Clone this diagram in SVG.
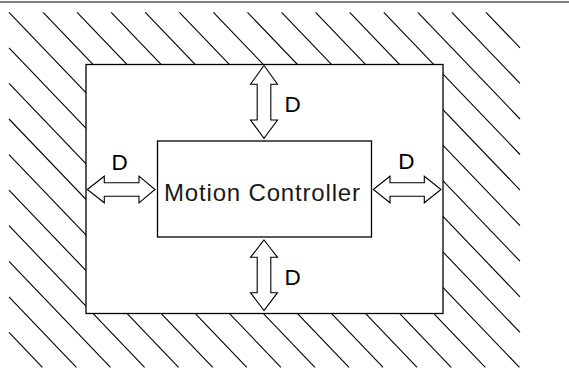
<svg xmlns="http://www.w3.org/2000/svg" width="569" height="377" viewBox="0 0 569 377">
<style>
.hatch{stroke:#000;stroke-width:1.1;fill:none}
.box{fill:#fff;stroke:#000;stroke-width:1.3}
.arrow{fill:#fff;stroke:#000;stroke-width:1.1;stroke-linejoin:miter}
.lbl{font-family:"Liberation Sans",Arial,sans-serif;font-size:22.5px;fill:#000}
.main{font-family:"Liberation Sans",Arial,sans-serif;font-size:24px;fill:#1a1a1a}
</style>
<rect x="0" y="0" width="569" height="377" fill="#fff"/>
<line x1="0" y1="2" x2="569" y2="2" stroke="#808080" stroke-width="2"/>
<g id="hatching" class="hatch">
<line x1="9" y1="332.4" x2="42.4" y2="367.3"/>
<line x1="9" y1="296.9" x2="76.4" y2="367.3"/>
<line x1="9" y1="261.3" x2="110.5" y2="367.3"/>
<line x1="9" y1="225.7" x2="144.6" y2="367.3"/>
<line x1="9" y1="190.2" x2="178.6" y2="367.3"/>
<line x1="9" y1="154.6" x2="212.7" y2="367.3"/>
<line x1="9" y1="119.0" x2="246.8" y2="367.3"/>
<line x1="9" y1="83.4" x2="280.9" y2="367.3"/>
<line x1="9" y1="47.9" x2="314.9" y2="367.3"/>
<line x1="9" y1="12.3" x2="349" y2="367.3"/>
<line x1="43.1" y1="12.3" x2="383.1" y2="367.3"/>
<line x1="77.1" y1="12.3" x2="417.1" y2="367.3"/>
<line x1="111.2" y1="12.3" x2="451.2" y2="367.3"/>
<line x1="145.3" y1="12.3" x2="485.3" y2="367.3"/>
<line x1="179.4" y1="12.3" x2="519.4" y2="367.3"/>
<line x1="213.4" y1="12.3" x2="520" y2="332.4"/>
<line x1="247.5" y1="12.3" x2="520" y2="296.8"/>
<line x1="281.6" y1="12.3" x2="520" y2="261.2"/>
<line x1="315.6" y1="12.3" x2="520" y2="225.7"/>
<line x1="349.7" y1="12.3" x2="520" y2="190.1"/>
<line x1="383.8" y1="12.3" x2="520" y2="154.5"/>
<line x1="417.8" y1="12.3" x2="520" y2="119.0"/>
<line x1="451.9" y1="12.3" x2="520" y2="83.4"/>
<line x1="486.0" y1="12.3" x2="520" y2="47.8"/>
</g>
<g id="workspace">
<rect class="box" x="86" y="64.5" width="357" height="249"/>
</g>
<g id="controller">
<rect class="box" x="157.5" y="141" width="214" height="96" stroke-width="1.1"/>
<text class="main" x="164" y="200.7" textLength="196" lengthAdjust="spacing">Motion Controller</text>
</g>
<g id="connectors">
<polygon class="arrow" points="264,65.5 277.5,84.3 270.8,84.3 270.8,120 277.5,120 264,138.3 250.5,120 257.2,120 257.2,84.3 250.5,84.3"/>
<polygon class="arrow" points="264,240 277.5,257.3 270.8,257.3 270.8,292.7 277.5,292.7 264,310.7 250.5,292.7 257.2,292.7 257.2,257.3 250.5,257.3"/>
<polygon class="arrow" points="87.3,189.5 104.3,176.2 104.3,182.7 139,182.7 139,176.2 155,189.5 139,202.8 139,196.3 104.3,196.3 104.3,202.8"/>
<polygon class="arrow" points="373.3,189.5 390,176.2 390,182.7 424.3,182.7 424.3,176.2 441,189.5 424.3,202.8 424.3,196.3 390,196.3 390,202.8"/>
<text class="lbl" x="284.6" y="112">D</text>
<text class="lbl" x="284.6" y="285">D</text>
<text class="lbl" x="111.6" y="170">D</text>
<text class="lbl" x="398.3" y="169.3">D</text>
</g>
</svg>
